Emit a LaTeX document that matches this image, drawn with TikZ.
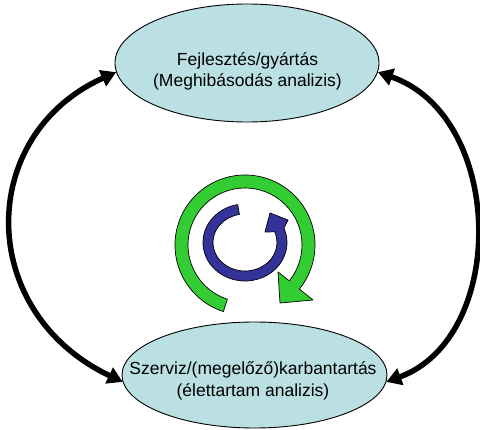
\documentclass[tikz,border=0pt]{standalone}
\usepackage{fontspec}
\setmainfont{Liberation Sans}
\usetikzlibrary{shapes.geometric,arrows.meta}
\definecolor{ellfill}{HTML}{BBE0E3}
\definecolor{ringgreen}{HTML}{33CC33}
\definecolor{ringblue}{HTML}{333399}
\tikzset{
  phase/.style={ellipse, draw=black, line width=0.9pt, fill=ellfill, inner sep=0pt},
  phasetext/.style={align=center, inner sep=0pt, font=\fontsize{17.5}{21.5}\selectfont},
  bigarrow/.style={line width=5.5pt, {Triangle[length=15pt,width=17pt]}-{Triangle[length=15pt,width=17pt]}},
  ringline/.style={draw=black, line width=0.7pt, line join=round}
}
\begin{document}
\begin{tikzpicture}[x=1pt,y=-1pt]
\useasboundingbox (0,0) rectangle (480,430);
% ellipses
\node[phase, minimum width=264pt, minimum height=118pt] (top) at (247,63) {};
\node[phase, minimum width=265pt, minimum height=106pt] (bot) at (254.5,375) {};
\node[phasetext] (toptext) at (247.5,71.4) {Fejlesztés/gyártás\\(Meghibásodás analizis)};
\node[phasetext] (bottext) at (253,380.8) {Szerviz/(megelőző)karbantartás\\(élettartam analizis)};
% big double arrows
\draw[bigarrow] (top.184) .. controls +(-140,63) and +(-147,-70) .. (bot.183);
\draw[bigarrow] (top.356) .. controls +(127,44) and +(122,-45) .. (bot.357);
% green ring arrow
\coordinate (gc) at (245,245);
\filldraw[ringline, fill=ringgreen]
  ([shift={(108:70)}]gc) arc[start angle=108, end angle=399, radius=70]
  -- (313,300) -- (280,303) -- (278,272)
  -- ([shift={(399:57)}]gc) arc[start angle=399, end angle=108, radius=57] -- cycle;
% blue ring arrow
\coordinate (bc) at (245,242.5);
\filldraw[ringline, fill=ringblue]
  ([shift={(260:42 and 38.5)}]bc) arc[start angle=260, end angle=-22, x radius=42, y radius=38.5]
  -- (288,220) -- (270,213) -- (265,232)
  -- ([shift={(-22:32 and 28.5)}]bc) arc[start angle=-22, end angle=260, x radius=32, y radius=28.5] -- cycle;
\end{tikzpicture}
\end{document}
